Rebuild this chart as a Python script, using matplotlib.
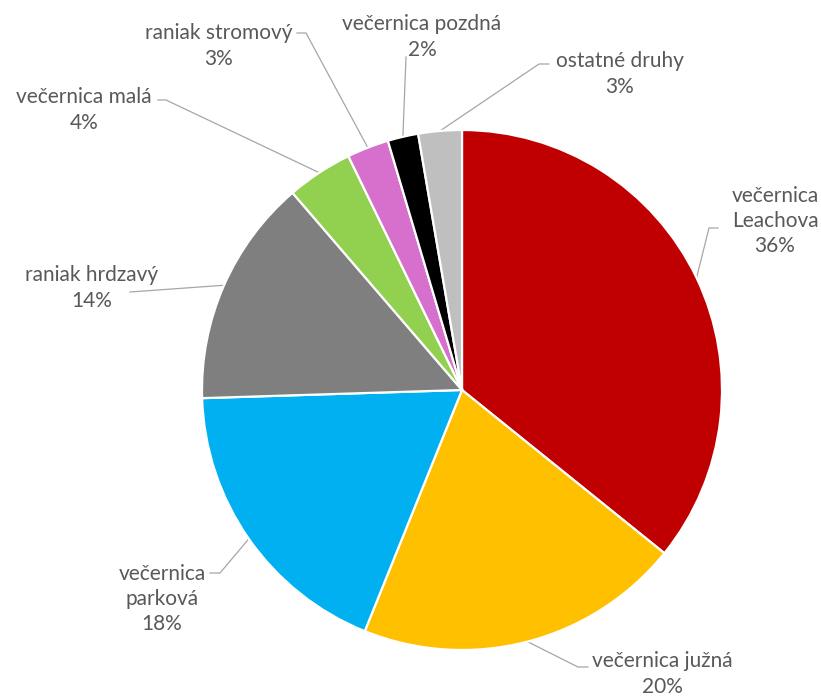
import numpy as np
import matplotlib.pyplot as plt

# data
species = ['večernica\nLeachova', 'večernica južná', 'večernica\nparková', 'raniak hrdzavý',
           'večernica malá', 'raniak stromový', 'večernica pozdná', 'ostatné druhy']
shares = [35.8, 20.3, 18.4, 14.2, 4.1, 2.6, 1.9, 2.7]
colors = ['#C00000', '#FFC000', '#00B0F0', '#7F7F7F', '#92D050', '#D670CC', '#000000', '#BFBFBF']

W, H = 821, 697
cx, cy, R = 462, 390, 260

# label block centres and leader start/elbow, in pixels (y down)
label_xy = [(775, 221), (662, 674), (162, 599), (92, 288), (84, 110), (219, 46), (422, 37), (620, 74)]
leader_pts = [[(718, 228), (709, 228)], [(588, 667), (578, 667)], [(210, 573), (220, 573)],
              [(130, 292)], [(158, 100), (166, 100)], [(297, 33), (306, 33)],
              [(406, 57)], [(549, 64), (539, 64)]]

plt.rcParams['font.family'] = ['Lato', 'DejaVu Sans']
fig = plt.figure(figsize=(W / 100, H / 100), dpi=100)
ax = fig.add_axes([0, 0, 1, 1])

wedges, _ = ax.pie(shares, colors=colors, startangle=90, counterclock=False,
                   center=(cx, H - cy), radius=R,
                   wedgeprops=dict(edgecolor='white', linewidth=1.6))
ax.set_xlim(0, W)
ax.set_ylim(0, H)
ax.set_aspect('equal')
ax.axis('off')

total = sum(shares)
for w, name, v, (tx, ty), pts in zip(wedges, species, shares, label_xy, leader_pts):
    mid = np.deg2rad((w.theta1 + w.theta2) / 2)
    ax_ = cx + R * np.cos(mid)
    ay_ = (H - cy) + R * np.sin(mid)
    xs = [p[0] for p in pts] + [ax_]
    ys = [H - p[1] for p in pts] + [ay_]
    ax.plot(xs, ys, color='#A6A6A6', lw=0.9, zorder=0.5)
    ax.text(tx, H - ty, f'{name}\n{v / total * 100:.0f}%', ha='center', va='center',
            fontsize=15, color='#595959', linespacing=1.32)

fig.savefig('out.png', dpi=100)
